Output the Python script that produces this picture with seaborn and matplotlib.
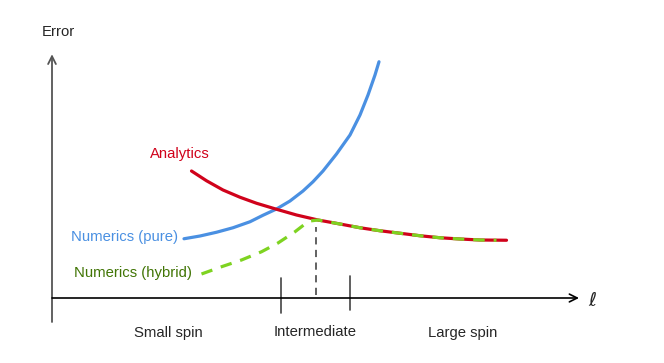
import matplotlib.pyplot as plt
import pandas as pd
import seaborn as sns

# Schematic values (l on the x axis, error on the y axis)
pure_l = [2.64, 2.96, 3.29, 3.62, 3.96, 4.22, 4.49, 4.76, 5.02, 5.22,
          5.42, 5.69, 5.96, 6.16, 6.32, 6.46, 6.54]
pure_err = [2.37, 2.48, 2.63, 2.81, 3.05, 3.31, 3.56, 3.88, 4.28, 4.65,
            5.08, 5.76, 6.52, 7.32, 8.12, 8.92, 9.45]

analytic_l = [2.79, 3.09, 3.42, 3.76, 4.09, 4.49, 4.89, 5.32, 5.76, 6.16,
              6.56, 6.96, 7.36, 7.76, 8.16, 8.56, 9.09]
analytic_err = [5.08, 4.69, 4.32, 4.03, 3.79, 3.55, 3.32, 3.12, 2.96, 2.81,
                2.69, 2.59, 2.49, 2.41, 2.36, 2.32, 2.31]

hybrid_l = [2.99, 3.39, 3.79, 4.19, 4.52, 4.86, 5.06, 5.16, 5.32, 5.76,
            6.16, 6.56, 6.96, 7.36, 7.76, 8.16, 8.56, 8.89]
hybrid_err = [0.96, 1.25, 1.52, 1.85, 2.20, 2.65, 2.96, 3.08, 3.12, 2.96,
              2.81, 2.69, 2.59, 2.49, 2.41, 2.36, 2.32, 2.31]

switch_l = 5.28  # where hybrid joins analytics
region_edges = [4.58, 5.96]
region_names = ["Small spin", "Intermediate", "Large spin"]
region_centres = [2.32, 5.26, 8.22]

BLUE = "#4a90e2"
RED = "#d0021b"
GREEN = "#7ed321"
DARK_GREEN = "#417505"
FS = 10.7

sns.set_theme(style="white")
plt.rcParams["font.family"] = ["Liberation Sans", "DejaVu Sans"]

df_pure = pd.DataFrame({"l": pure_l, "err": pure_err})
df_an = pd.DataFrame({"l": analytic_l, "err": analytic_err})
df_hyb = pd.DataFrame({"l": hybrid_l, "err": hybrid_err})

fig = plt.figure(figsize=(6.64, 3.63), dpi=100)
ax = fig.add_axes([0, 0, 1, 1])
ax.set_xlim(-1.04, 12.24)
ax.set_ylim(-2.6, 11.92)

# Axes drawn as arrows
ax.annotate("", xy=(0, 9.75), xytext=(0, -0.96),
            arrowprops=dict(arrowstyle="->", color="#555555", lw=1.3,
                            mutation_scale=14, shrinkA=0, shrinkB=0))
ax.annotate("", xy=(10.54, 0), xytext=(0, 0),
            arrowprops=dict(arrowstyle="->", color="black", lw=1.2,
                            mutation_scale=14, shrinkA=0, shrinkB=0))

# Region boundaries
for edge, top, bottom in zip(region_edges, [0.8, 0.88], [-0.6, -0.48]):
    ax.plot([edge, edge], [bottom, top], color="#444444", lw=1.2)
ax.plot([switch_l, switch_l], [0.12, 2.84], color="#555555", lw=1.3,
        linestyle=(0, (4, 3)))

# Curves
sns.lineplot(data=df_pure, x="l", y="err", ax=ax, color=BLUE, lw=2.3,
             sort=False, estimator=None)
sns.lineplot(data=df_an, x="l", y="err", ax=ax, color=RED, lw=2.3,
             sort=False, estimator=None)
sns.lineplot(data=df_hyb, x="l", y="err", ax=ax, color=GREEN, lw=2.3,
             sort=False, estimator=None, linestyle=(0, (3.6, 2.8)))
ax.axis("off")

# Labels
ax.text(0.12, 10.64, "Error", ha="center", va="center", fontsize=FS)
ax.text(10.82, -0.1, r"$\ell$", ha="center", va="center", fontsize=14)
for name, c in zip(region_names, region_centres):
    ax.text(c, -1.38, name, ha="center", va="center", fontsize=FS)

ax.text(2.56, 5.76, "Analytics", color=RED, ha="center", va="center", fontsize=FS)
ax.text(2.52, 2.44, "Numerics (pure)", color=BLUE, ha="right", va="center", fontsize=FS)
ax.text(2.8, 1.0, "Numerics (hybrid)", color=DARK_GREEN, ha="right", va="center", fontsize=FS)

fig.savefig("out.png", dpi=100)
